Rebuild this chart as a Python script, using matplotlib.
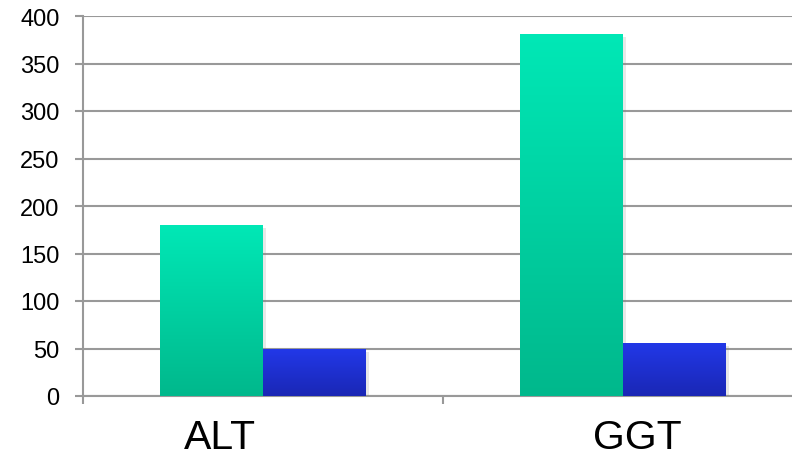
import numpy as np
import matplotlib.pyplot as plt
import matplotlib.transforms as mtransforms
from matplotlib.colors import LinearSegmentedColormap
import matplotlib.patheffects as pe

# данные
categories = ['ALT', 'GGT']
series_a = [180, 381]
series_b = [49, 56]
y_ticks = [0, 50, 100, 150, 200, 250, 300, 350, 400]

plt.rcParams['font.family'] = ['Liberation Sans', 'DejaVu Sans']

fig = plt.figure(figsize=(7.92, 4.6), dpi=100)
ax = fig.add_axes([83 / 792, 1 - 397 / 460, 720 / 792, 380 / 460])

green = LinearSegmentedColormap.from_list('g', ['#00B88C', '#00E8B6'])
blue = LinearSegmentedColormap.from_list('b', ['#1A27B5', '#2238E8'])

width = 0.286
x = np.arange(len(categories))
grad = np.linspace(0, 1, 256).reshape(-1, 1)


def gradient_bars(xs, heights, cmap):
    bars = ax.bar(xs, heights, width, color='none', zorder=3,
                  path_effects=[pe.SimplePatchShadow(offset=(2, -2), alpha=0.18, shadow_rgbFace='gray'),
                                pe.Normal()])
    for b in bars:
        x0, y0 = b.get_x(), b.get_y()
        im = ax.imshow(grad, cmap=cmap, origin='lower', aspect='auto',
                       extent=(x0, x0 + b.get_width(), y0, y0 + b.get_height()),
                       zorder=4, interpolation='bicubic')
        im.set_clip_path(b)


gradient_bars(x - width / 2, series_a, green)
gradient_bars(x + width / 2, series_b, blue)

ax.set_xlim(-0.5, 1.5)
ax.set_ylim(0, 400)
ax.set_yticks(y_ticks)
ax.set_xticks([-0.5, 0.5, 1.5])
ax.set_xticklabels([])
ax.tick_params(axis='x', length=6, width=1.5, color='#999999')
ax.tick_params(axis='y', length=6, width=1.5, color='#999999', labelsize=17, pad=11)
ax.yaxis.grid(True, color='#999999', linewidth=1.5, zorder=0)
ax.set_axisbelow(True)

# подписи категорий (в оригинале сдвинуты относительно центров групп)
label_shift = [-0.12, 0.04]
trans = mtransforms.blended_transform_factory(ax.transData, ax.transAxes)
for xi, name, dx in zip(x, categories, label_shift):
    ax.text(xi + dx, -0.138, name, transform=trans, ha='center', va='baseline', fontsize=29.5)

for s in ['top', 'right']:
    ax.spines[s].set_visible(False)
for s in ['left', 'bottom']:
    ax.spines[s].set_color('#999999')
    ax.spines[s].set_linewidth(1.5)

fig.savefig('out.png', dpi=100)
